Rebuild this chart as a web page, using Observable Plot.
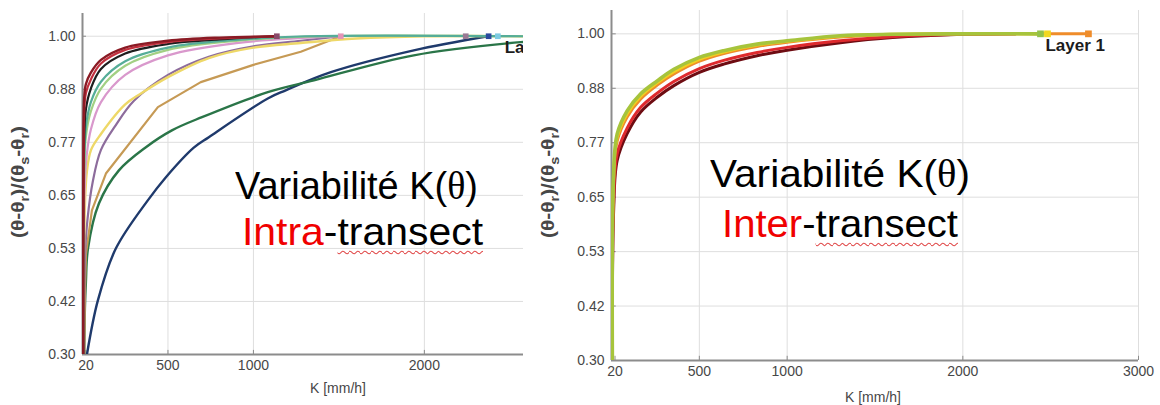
<!DOCTYPE html>
<html><head><meta charset="utf-8">
<script src="https://cdn.jsdelivr.net/npm/d3@7"></script>
<script src="https://cdn.jsdelivr.net/npm/@observablehq/plot@0.6"></script>
<style>
html,body{margin:0;padding:0;background:#fff}
#wrap{position:relative;width:1160px;height:405px;overflow:hidden;background:#fff;font-family:"Liberation Sans",Arial,sans-serif}
.panel{position:absolute;top:0}
.big{position:absolute;font-family:"Liberation Sans",Arial,sans-serif;font-size:39px;line-height:1;color:#000;white-space:nowrap;transform-origin:0 0}
.red{color:#f00000}
.sq{text-decoration-line:underline;text-decoration-style:wavy;text-decoration-color:#e04848;text-decoration-thickness:1px;text-underline-offset:5px;text-decoration-skip-ink:none}
.th{font-family:"Liberation Serif","Times New Roman",serif}
</style></head>
<body><div id="wrap"></div>
<script>
// ---------- axes / ticks ----------
const yTicks = [0.30, 0.4167, 0.5333, 0.65, 0.7667, 0.8833, 1.00];
const xTicksLeft = [20, 500, 1000, 2000];
const xTicksRight = [20, 500, 1000, 2000, 3000];
const xLabel = "K [mm/h]";
const layerLabel = [{t: "Layer 1", K: 2470, v: 0.975}];

// ---------- left panel (intra-transect) series: [K, theta_norm] ----------
const L_navy = [[26,0.30],[90,0.419],[195,0.533],[382,0.639],[488,0.69],[651,0.755],[739,0.778],[1084,0.863],[1189,0.881],[1453,0.921],[1938,0.969],[2371,1.0]];
const L_green = [[10,0.30],[14,0.40],[20,0.46],[32,0.533],[96,0.632],[213,0.705],[371,0.756],[523,0.793],[699,0.822],[1084,0.877],[1354,0.903],[1938,0.958],[2563,0.987],[2700,0.99]];
const L_tan = [[10,0.30],[15,0.45],[20,0.52],[55,0.617],[137,0.698],[441,0.844],[692,0.899],[1000,0.937],[1277,0.966],[1511,1.0]];
const L_mauve = [[8,0.30],[15,0.52],[30,0.60],[60,0.68],[108,0.75],[194,0.804],[301,0.858],[500,0.915],[739,0.955],[1000,0.978],[1277,0.99],[1511,1.0]];
const L_yellow = [[6,0.30],[12,0.60],[25,0.70],[50,0.75],[108,0.785],[250,0.85],[342,0.874],[500,0.91],[739,0.952],[1000,0.975],[1277,0.985],[1600,0.995],[2000,1.0],[2580,1.0]];
const L_pink = [[6,0.30],[12,0.66],[25,0.74],[49,0.795],[108,0.855],[250,0.915],[500,0.958],[900,0.985],[1511,1.0]];
const L_lightgreen = [[5,0.30],[10,0.70],[20,0.78],[49,0.835],[108,0.885],[250,0.935],[500,0.97],[900,0.99],[1400,1.0],[2580,1.0]];
const L_teal = [[5,0.30],[10,0.72],[20,0.80],[49,0.855],[108,0.90],[250,0.945],[500,0.975],[900,0.992],[1300,1.0],[2580,1.0]];
const L_black = [[5,0.30],[9,0.76],[20,0.84],[49,0.885],[108,0.928],[250,0.962],[500,0.983],[800,0.993],[1137,1.0]];
const L_red = [[4,0.30],[7,0.78],[12,0.85],[20,0.875],[49,0.905],[108,0.94],[250,0.97],[500,0.987],[800,0.995],[1137,1.0]];
const L_darkred = [[4,0.30],[6,0.80],[10,0.865],[20,0.895],[49,0.92],[108,0.948],[250,0.975],[500,0.99],[800,0.997],[1137,1.0]];
const leftMarkerK = [1137, 1511, 2242, 2376, 2430];
const leftMarkerV = [1, 1, 1, 1, 1];

// ---------- right panel (inter-transect) series ----------
const R_darkred = [[5,0.30],[12,0.62],[32,0.728],[89,0.786],[165,0.832],[260,0.864],[355,0.889],[497,0.917],[639,0.935],[829,0.953],[1000,0.965],[1303,0.981],[1600,0.992],[2000,0.999],[2300,1.0]];
const R_red = [[5,0.30],[12,0.64],[32,0.742],[89,0.798],[165,0.842],[260,0.873],[355,0.898],[497,0.925],[639,0.943],[829,0.96],[1000,0.971],[1303,0.985],[1600,0.994],[2000,0.999],[2300,1.0]];
const R_orange = [[5,0.30],[12,0.68],[32,0.77],[89,0.822],[165,0.86],[260,0.89],[355,0.914],[497,0.941],[639,0.958],[829,0.973],[1000,0.982],[1303,0.993],[1600,0.998],[2000,1.0],[2715,1.0]];
const R_yellow = [[5,0.30],[12,0.69],[32,0.778],[89,0.829],[165,0.866],[260,0.895],[355,0.919],[497,0.945],[639,0.961],[829,0.976],[1000,0.984],[1303,0.995],[1600,0.999],[2000,1.0],[2482,1.0]];
const R_yellowgreen = [[5,0.30],[12,0.70],[32,0.785],[89,0.835],[165,0.871],[260,0.899],[355,0.924],[497,0.949],[639,0.964],[829,0.978],[1000,0.985],[1303,0.996],[1600,0.999],[2000,1.0],[2442,1.0]];
const rightMarkerK = [2442, 2482, 2715];
const rightMarkerV = [1, 1, 1];

// ---------- styles ----------
const leftStyles = [
  [L_navy, "#1f3a6c", 2.4, "catmull-rom"],
  [L_green, "#2a7548", 2.4, "catmull-rom"],
  [L_tan, "#c69a55", 2.2, "linear"],
  [L_mauve, "#8d6c9c", 2.2, "catmull-rom"],
  [L_yellow, "#eed868", 2.4, "catmull-rom"],
  [L_pink, "#d998cc", 2.2, "catmull-rom"],
  [L_lightgreen, "#a2d083", 2.2, "catmull-rom"],
  [L_teal, "#55ad98", 2.2, "catmull-rom"],
  [L_black, "#1e1e1e", 2.2, "catmull-rom"],
  [L_red, "#c2303e", 2.2, "catmull-rom"],
  [L_darkred, "#8a1a24", 2.4, "catmull-rom"]
];
const leftMarkerColors = ["#8a4a6a", "#e494b6", "#9a7a94", "#2a4a9e", "#7ecbe2"];
const rightStyles = [
  [R_orange, "#ef8c2a", 3, "catmull-rom"],
  [R_darkred, "#6e0c12", 3, "catmull-rom"],
  [R_red, "#de2a2e", 3, "catmull-rom"],
  [R_yellow, "#f2cf1e", 3, "catmull-rom"],
  [R_yellowgreen, "#a6c43c", 3.6, "catmull-rom"]
];
const rightMarkerColors = ["#93c24a", "#f2d820", "#ef8c2a"];

const toRows = pts => pts.map(([K, v]) => ({K, v}));

function panel(cfg) {
  const marks = [
    Plot.gridY(yTicks, {stroke: "#dedede", strokeOpacity: 1}),
    Plot.gridX(cfg.gridX, {stroke: "#dedede", strokeOpacity: 1}),
    Plot.axisY(yTicks, {tickSize: 0, tickPadding: 7, tickFormat: d3.format(".2f"), fontSize: 14, fill: "#474747", label: null}),
    Plot.axisX(cfg.xTicks, {tickSize: 0, tickPadding: 6, tickFormat: d3.format("d"), fontSize: 14, fill: "#474747", label: null}),
    Plot.ruleX([0], {stroke: "#8c8c8c", strokeWidth: 2}),
    Plot.ruleY([0.30], {stroke: "#8c8c8c", strokeWidth: 2}),
    Plot.ruleX(cfg.xTicks, {y1: 0.30, y2: 0.309, stroke: "#8c8c8c"}),
    Plot.ruleY(yTicks, {x1: 0, x2: cfg.xDomain[1] * 0.009, stroke: "#8c8c8c"}),
    Plot.text([xLabel], {text: d => d, frameAnchor: "bottom", dx: cfg.labDx, dy: cfg.labDy, lineAnchor: "middle", fontSize: 14, fill: "#474747"})
  ];
  for (const [pts, color, w, curve] of cfg.series)
    marks.push(Plot.line(toRows(pts), {x: "K", y: "v", stroke: color, strokeWidth: w, curve, clip: true}));
  cfg.markerK.forEach((K, i) =>
    marks.push(Plot.dot([{K, v: cfg.markerV[i]}], {x: "K", y: "v", symbol: "square", r: cfg.markerR, fill: cfg.markerColors[i], clip: true})));
  marks.push(Plot.text(layerLabel, {x: "K", y: "v", text: "t", textAnchor: "start", fontWeight: "bold", fontSize: 17, fill: "#1c1c1c", clip: true}));
  const svg = Plot.plot({
    width: cfg.width, height: 405,
    marginLeft: cfg.ml, marginRight: cfg.mr, marginTop: cfg.mt, marginBottom: cfg.mb,
    x: {domain: cfg.xDomain, label: null},
    y: {domain: [0.30, 1.05], label: null},
    style: {fontFamily: "Liberation Sans, Arial, sans-serif", background: "transparent", overflow: "visible"},
    marks
  });
  // y-axis title with subscripts
  const t = d3.select(svg).append("text")
    .attr("transform", `translate(${cfg.ytx},${cfg.yty}) rotate(-90)`)
    .attr("text-anchor", "middle")
    .attr("textLength", 112).attr("lengthAdjust", "spacingAndGlyphs")
    .attr("font-family", "Liberation Sans, Arial, sans-serif")
    .attr("font-size", 19).attr("font-weight", "bold").attr("fill", "#474747");
  const parts = [["(θ-θ",0],["r",1],[")/(θ",0],["s",1],["-θ",0],["r",1],[")",0]];
  let sub = false;
  for (const [s, isSub] of parts) {
    const ts = t.append("tspan").text(s);
    if (isSub && !sub) { ts.attr("dy", 5).attr("font-size", 13); sub = true; }
    else if (!isSub && sub) { ts.attr("dy", -5); sub = false; }
    else if (isSub) ts.attr("font-size", 13);
  }
  return svg;
}

const wrap = document.getElementById("wrap");
function place(svg, left) {
  const d = document.createElement("div");
  d.className = "panel"; d.style.left = left + "px";
  d.appendChild(svg); wrap.appendChild(d);
}

place(panel({
  width: 530, ml: 82, mr: 7, mt: 13, mb: 51, xDomain: [0, 2580],
  xTicks: xTicksLeft, gridX: [500, 1000, 2000], series: leftStyles,
  markerK: leftMarkerK, markerV: leftMarkerV, markerColors: leftMarkerColors, markerR: 3.2,
  labDx: 35, labDy: 34, ytx: 24, yty: 182
}), 0);

place(panel({
  width: 620, ml: 71, mr: 22, mt: 10, mb: 45, xDomain: [0, 3000],
  xTicks: xTicksRight, gridX: [500, 1000, 2000, 3000], series: rightStyles,
  markerK: rightMarkerK, markerV: rightMarkerV, markerColors: rightMarkerColors, markerR: 3.8,
  labDx: -2, labDy: 37, ytx: 14, yty: 182
}), 540);

// ---------- overlay annotations ----------
const notes = [
  {html: 'Variabilité K(<span class="th">θ</span>)', x: 235, base: 199, w: 243},
  {html: '<span class="red">Intra</span>-<span class="sq">transect</span>', x: 242, base: 245, w: 241},
  {html: 'Variabilité K(<span class="th">θ</span>)', x: 710, base: 187, w: 260},
  {html: '<span class="red">Inter</span>-<span class="sq">transect</span>', x: 722, base: 237, w: 236}
];
for (const n of notes) {
  const d = document.createElement("div");
  d.className = "big"; d.innerHTML = n.html;
  d.style.left = n.x + "px"; d.style.top = (n.base - 0.8465 * 39) + "px";
  wrap.appendChild(d);
  const w = d.getBoundingClientRect().width;
  d.style.transform = `scaleX(${n.w / w})`;
}
</script></body></html>
